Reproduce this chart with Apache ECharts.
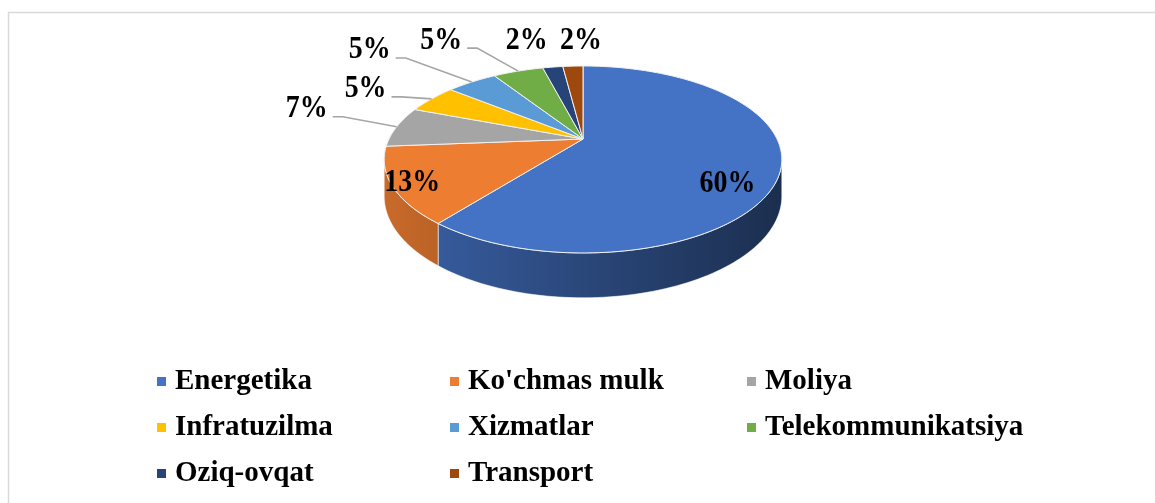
<!DOCTYPE html>
<html>
<head>
<meta charset="utf-8">
<script src="https://cdn.jsdelivr.net/npm/echarts@6.0.0/dist/echarts.min.js"></script>
<style>
  html, body { margin: 0; padding: 0; background: #fff; }
  #chart { width: 1155px; height: 503px; }
</style>
</head>
<body>
<div id="chart"></div>
<script>
  const categories = ['Energetika', "Ko'chmas mulk", 'Moliya', 'Infratuzilma', 'Xizmatlar', 'Telekommunikatsiya', 'Oziq-ovqat', 'Transport'];
  const shares = [60, 13, 7, 5, 5, 5, 2, 2];
  const colors = ['#4472C4', '#ED7D31', '#A5A5A5', '#FFC000', '#5B9BD5', '#70AD47', '#264478', '#9E480E'];

  // tilted pie: centre, radii, perspective factor, thickness
  const CX = 583, CY = 139, RX = 194, RY = 89, K = 0.219, DEPTH = 35;
  const FONT = '"Liberation Serif", "Times New Roman", serif';
  // label nudges from the rim point at each slice middle (like excel placed them)
  const labelShift = [[-53, 11], [20, -5], [-90, -20], [-66, -12], [-102, -34], [-77, -33], [-26, -29], [8, -28]];

  const measure = document.createElement('canvas').getContext('2d');
  measure.font = 'bold 31px ' + FONT;

  function proj(a, drop) {
    const u = Math.sin(a), v = Math.cos(a), s = 1 / (1 + K * v);
    return [CX + RX * u * s, CY - RY * v * s + (drop || 0) * s];
  }

  function arc(a0, a1, drop) {
    const n = Math.max(2, Math.ceil((a1 - a0) / (Math.PI / 120)));
    const pts = [];
    for (let j = 0; j <= n; j++) pts.push(proj(a0 + (a1 - a0) * j / n, drop));
    return pts;
  }

  function shade(hex, f) {
    const n = parseInt(hex.slice(1), 16);
    const r = Math.round(((n >> 16) & 255) * f), g = Math.round(((n >> 8) & 255) * f), b = Math.round((n & 255) * f);
    return 'rgb(' + r + ',' + g + ',' + b + ')';
  }

  function renderSlice(i) {
    return function (params, api) {
      const total = shares.reduce((a, b) => a + b, 0);
      const before = shares.slice(0, i).reduce((a, b) => a + b, 0);
      const val = api.value(1);
      const a0 = before / total * 2 * Math.PI;
      const a1 = (before + val) / total * 2 * Math.PI;
      const children = [];

      // front wall, only the part facing us
      const wl = Math.acos(-K), wr = 2 * Math.PI - wl;
      const b0 = Math.max(a0, wl), b1 = Math.min(a1, wr);
      if (b1 > b0) {
        const pts = arc(b0, b1, 0).concat(arc(b0, b1, DEPTH).reverse());
        children.push({
          type: 'polygon',
          shape: { points: pts },
          style: {
            fill: new echarts.graphic.LinearGradient(CX - RX * 1.03, 0, CX + RX * 1.03, 0, [
              { offset: 0, color: shade(colors[i], 0.85) },
              { offset: 1, color: shade(colors[i], 0.4) }
            ], true),
            stroke: 'rgba(255,255,255,0.7)',
            lineWidth: 0.8
          }
        });
      }

      children.push({
        type: 'polygon',
        shape: { points: [[CX, CY]].concat(arc(a0, a1, 0)) },
        style: { fill: colors[i], stroke: '#f2f2f2', lineWidth: 1 }
      });

      const rim = proj((a0 + a1) / 2, 0);
      const sh = labelShift[i];
      const lx = rim[0] + sh[0], ly = rim[1] + sh[1];
      const text = val + '%';
      if (val < 10 && Math.hypot(sh[0], sh[1]) > 45) {
        const w = measure.measureText(text).width * 0.9;
        children.push({
          type: 'polyline',
          shape: { points: [[lx + w / 2 + 5, ly + 10], [lx + w / 2 + 15, ly + 10], rim] },
          style: { stroke: '#a6a6a6', fill: null, lineWidth: 1.6 },
          z2: 5
        });
      }
      children.push({
        type: 'text',
        x: lx, y: ly + 2.5,
        scaleX: 0.9,
        style: { text: text, fill: '#000', font: 'bold 31px ' + FONT, align: 'center', verticalAlign: 'middle' },
        z2: 10
      });

      return { type: 'group', children: children };
    };
  }

  const legendCols = [[0, 3, 6], [1, 4, 7], [2, 5]];
  const legendLeft = [157, 450, 747];

  const chart = echarts.init(document.getElementById('chart'));
  chart.setOption({
    animation: false,
    backgroundColor: '#fff',
    graphic: [{
      type: 'polyline',
      shape: { points: [[8.5, 503], [8.5, 12.5], [1160, 12.5]] },
      style: { stroke: '#d9d9d9', fill: null, lineWidth: 1.5 }
    }],
    legend: legendCols.map((col, c) => ({
      orient: 'vertical',
      left: legendLeft[c],
      top: 367,
      padding: 0,
      itemGap: 17,
      itemWidth: 9,
      itemHeight: 9,
      icon: 'rect',
      selectedMode: false,
      data: col.map(j => categories[j]),
      textStyle: { fontFamily: FONT, fontWeight: 'bold', fontSize: 29, color: '#000', lineHeight: 29, padding: [0, 0, 0, 4] }
    })),
    series: categories.map((name, i) => ({
      type: 'custom',
      name: name,
      coordinateSystem: 'none',
      silent: true,
      itemStyle: { color: colors[i] },
      data: [[i, shares[i]]],
      renderItem: renderSlice(i)
    }))
  });
</script>
</body>
</html>
